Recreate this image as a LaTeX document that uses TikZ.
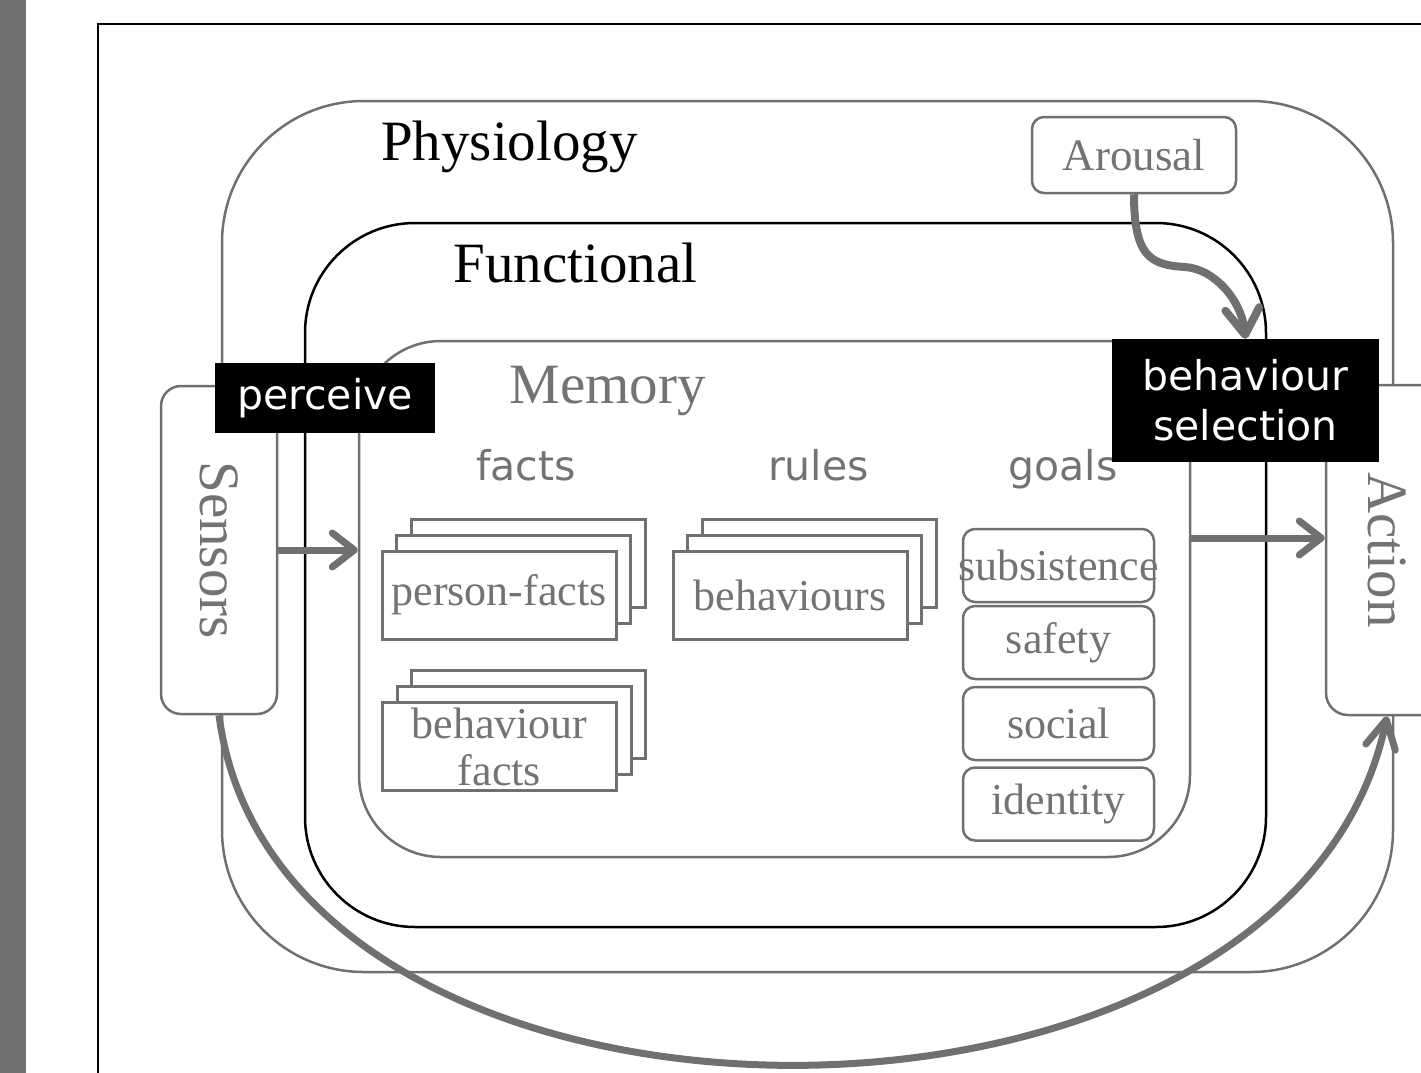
\documentclass[tikz,border=0pt]{standalone}
\usepackage{fontspec}
\setmainfont{Liberation Serif}
\setsansfont{DejaVu Sans}
\usetikzlibrary{arrows.meta,shadows}
\definecolor{mg}{RGB}{112,112,112}
\definecolor{tg}{RGB}{115,115,115}
\newcommand{\fsz}[2]{\fontsize{#1}{#2}\selectfont}
\begin{document}
\begin{tikzpicture}[x=1pt,y=-1pt,
  zone/.style={draw=mg, line width=2.5pt, inner sep=0pt, rounded corners=#1},
  side/.style={draw=mg, fill=white, line width=2.5pt, rounded corners=20pt, inner sep=0pt, text=tg, font=\fsz{57}{60}},
  title/.style={anchor=base, inner sep=0pt, font=\fsz{57}{60}},
  head/.style={anchor=base, inner sep=0pt, font=\sffamily\fsz{41}{45}, text=tg},
  stack/.style={draw=mg, fill=white, line width=3pt, inner sep=0pt,
     copy shadow={shadow xshift=29pt, shadow yshift=32pt, draw=mg, fill=white, line width=3pt},
     copy shadow={shadow xshift=14.5pt, shadow yshift=16pt, draw=mg, fill=white, line width=3pt},
     minimum width=234pt, minimum height=88pt, text=tg, font=\fsz{44}{48}, align=center},
  goal/.style={draw=mg, line width=2.5pt, rounded corners=12pt, minimum width=191pt, minimum height=73pt, inner sep=0pt, text=tg, font=\fsz{44}{48}},
  lab/.style={fill=black, text=white, inner sep=0pt, font=\sffamily\fsz{41}{50}, align=center},
  arr/.style={draw=mg, line width=7pt, -{Straight Barb[length=22pt, width=34pt, round]}}
]
\path[use as bounding box] (0,0) rectangle (1421,1073);
\clip (0,0) rectangle (1421,1073);
% left grey bar
\fill[mg] (0,0) rectangle (26,1073);
% outer frame
\draw[black, line width=2.2pt] (98,1100) -- (98,24) -- (1460,24);
% nested regions
\node[zone=142pt, minimum width=1171pt, minimum height=871pt] (phys) at (807.5,536.5) {};
\node[zone=110pt, draw=black, minimum width=961pt, minimum height=704pt] (func) at (785.5,575) {};
\node[zone=82pt, minimum width=831pt, minimum height=516pt] (mem) at (774.5,599) {};
% titles
\node[title] (tphys) at (509.5,160) {Physiology};
\node[title] (tfunc) at (575.5,282) {Functional};
\node[title, text=tg] (tmem) at (607.5,403) {Memory};
\node[head] (hfacts) at (526,480) {facts};
\node[head] (hrules) at (818.5,480) {rules};
\node[head] (hgoals) at (1063,480) {goals};
% arousal
\node[draw=mg, line width=2.5pt, rounded corners=12pt, minimum width=204pt, minimum height=76pt, inner sep=0pt, text=tg, font=\fsz{45}{48}] (arousal) at (1134,155) {Arousal};
% sensors and action
\node[side, minimum width=116pt, minimum height=328pt] (sens) at (219,550) {\rotatebox{-90}{Sensors}};
\node[side, rounded corners=22pt, minimum width=122pt, minimum height=330pt] (act) at (1387,550) {\rotatebox{-90}{Action}};
% memory contents
\node[stack] (pfacts) at (499,595) {person-facts};
\node[stack] (bfacts) at (499.5,746.5) {behaviour\\[-1pt]facts};
\node[stack] (behs) at (790,595) {behaviours};
\node[goal] (g1) at (1058.5,565.5) {\makebox[0pt][c]{subsistence}};
\node[goal] (g2) at (1058.5,642.5) {safety};
\node[goal] (g3) at (1058.5,723.5) {social};
\node[goal] (g4) at (1058.5,804) {identity};
% arrows
\coordinate (ma) at (0,538);
\draw[arr] (sens.east) -- (sens.east -| mem.west);
\draw[arr] (mem.east |- ma) -- (act.west |- ma);
\draw[arr, -{Straight Barb[length=28pt, width=30pt, round]}] (sens.south) .. controls +(60,465) and +(-97,465) .. (act.south);
% labels
\node[lab, minimum width=220pt, minimum height=70pt] (perc) at (325,398) {perceive};
\node[lab, minimum width=267pt, minimum height=123pt] (bsel) at (1245.5,400.5) {behaviour\\selection};
\draw[arr, line width=8pt, -{Straight Barb[length=26pt, width=34pt, round]}] (arousal.south) .. controls +(0,62) and +(-35,-2) .. (1185,267) .. controls +(30,2) and +(-4,-38) .. (bsel.north);
\end{tikzpicture}
\end{document}
